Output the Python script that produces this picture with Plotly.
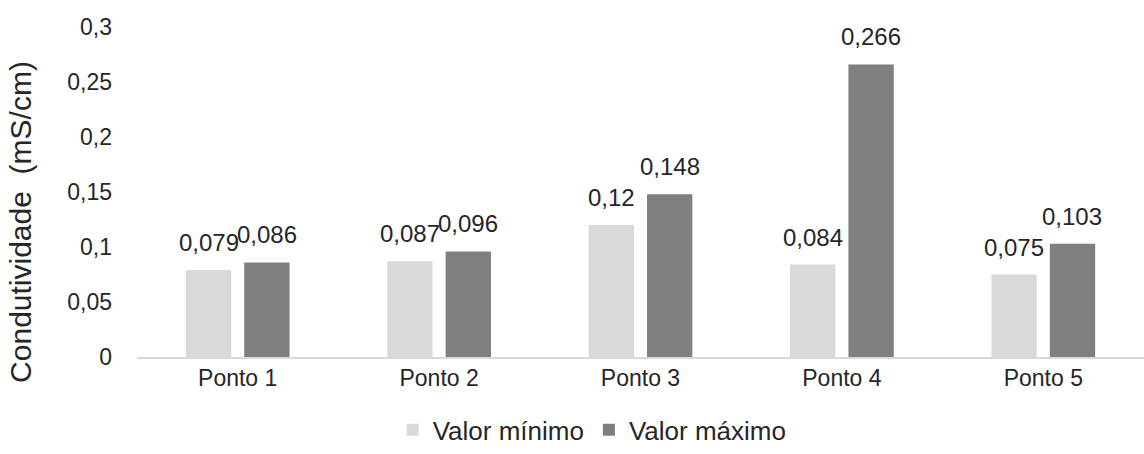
import plotly.graph_objects as go

categorias = ["Ponto 1", "Ponto 2", "Ponto 3", "Ponto 4", "Ponto 5"]
valor_minimo = [0.079, 0.087, 0.12, 0.084, 0.075]
valor_maximo = [0.086, 0.096, 0.148, 0.266, 0.103]
tick_vals = [0, 0.05, 0.1, 0.15, 0.2, 0.25, 0.3]
tick_text = ["0", "0,05", "0,1", "0,15", "0,2", "0,25", "0,3"]

def fmt(v):
    return ("%g" % v).replace(".", ",")

font_family = "Liberation Sans, Arial, sans-serif"
txt_color = "#262626"

fig = go.Figure()
fig.add_trace(go.Bar(
    x=categorias, y=valor_minimo, name="Valor mínimo",
    marker=dict(color="#d9d9d9", line=dict(width=0)),
))
fig.add_trace(go.Bar(
    x=categorias, y=valor_maximo, name="Valor máximo",
    marker=dict(color="#7f7f7f", line=dict(width=0)),
))

annotations = []
for serie, shift in ((valor_minimo, -29), (valor_maximo, 29)):
    for cat, v in zip(categorias, serie):
        annotations.append(dict(
            x=cat, y=v, xref="x", yref="y", text=fmt(v), showarrow=False,
            xanchor="center", yanchor="bottom", xshift=shift, yshift=12,
            font=dict(size=24, color=txt_color, family=font_family)))

annotations.append(dict(text="Condutividade  (mS/cm)", textangle=-90,
                        xref="paper", yref="paper", x=-0.115, y=0.41,
                        xanchor="center", yanchor="middle", showarrow=False,
                        font=dict(size=30, color=txt_color)))

fig.update_layout(
    width=1144, height=454,
    margin=dict(l=137, r=0, t=27, b=97),
    paper_bgcolor="white", plot_bgcolor="white",
    barmode="group", bargap=0.42, bargroupgap=0.224,
    font=dict(family=font_family, size=22, color=txt_color),
    showlegend=True,
    legend=dict(orientation="h", x=0.452, xanchor="center",
                y=-0.292, yanchor="bottom",
                font=dict(size=26, color=txt_color), itemwidth=30,
                tracegroupgap=0, traceorder="normal"),
    xaxis=dict(showgrid=False, showline=True, linecolor="#d9d9d9", linewidth=1.5,
               ticks="", tickfont=dict(size=23, color=txt_color)),
    yaxis=dict(range=[0, 0.3], tickvals=tick_vals, ticktext=tick_text,
               showgrid=False, zeroline=False, showline=False, ticks="",
               ticklabelstandoff=24,
               tickfont=dict(size=23, color=txt_color)),
    annotations=annotations,
)

fig.write_html("out.html")
